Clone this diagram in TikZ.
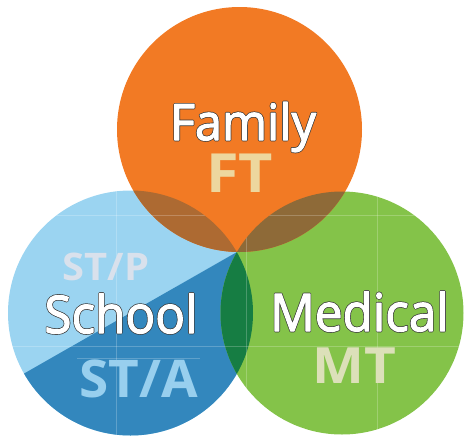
\documentclass[tikz,border=0pt]{standalone}
\usepackage{fontspec}
\setmainfont{Open Sans}
\definecolor{orangeC}{RGB}{242,122,36}
\definecolor{lblue}{RGB}{155,212,241}
\definecolor{dblue}{RGB}{51,135,189}
\definecolor{greenC}{RGB}{132,195,73}
\definecolor{ob}{RGB}{173,106,50}
\definecolor{og}{RGB}{142,106,56}
\definecolor{lens}{RGB}{22,125,67}
\definecolor{ftC}{RGB}{237,215,158}
\definecolor{stpC}{RGB}{217,225,236}
\definecolor{staC}{RGB}{152,207,238}
\definecolor{mtC}{RGB}{220,224,185}
\newcommand\outl[1]{\rlap{\special{pdf:literal direct 0.22 0.22 0.22 RG 2.6 w 1 j 1 Tr}#1\special{pdf:literal direct 0 Tr}}\special{pdf:literal direct 1 1 1 RG 1.2 w 1 j 2 Tr}#1\special{pdf:literal direct 0 Tr}}
\tikzset{
  title/.style={text=white,inner sep=0pt,anchor=base,font=\fontsize{50}{50}\selectfont},
  code/.style={inner sep=0pt,anchor=base,font=\bfseries\fontsize{52}{52}\selectfont},
  guide/.style={white,opacity=0.22,line width=0.8pt}
}
\begin{document}
\begin{tikzpicture}[x=1pt,y=-1pt]
\useasboundingbox (0,0) rectangle (464,437);
% centres
\coordinate (cF) at (239.5,129.5);
\coordinate (cS) at (130.5,313);
\coordinate (cM) at (342,313);
\coordinate (T) at (237,252);
% school circle
\fill[lblue] (cS) circle (122.5);
\begin{scope}
  \clip (cS) circle (122.5);
  \fill[dblue] (T) -- ++(-424,242) -- ++(0,100) -- (500,600) -- (500,120) -- cycle;
\end{scope}
% medical circle
\fill[greenC] (cM) circle (121.5);
% family circle
\fill[orangeC] (cF) circle (122.5);
% overlaps
\begin{scope}
  \clip (cF) circle (122.5);
  \fill[ob] (cS) circle (122.5);
  \fill[og] (cM) circle (121.5);
\end{scope}
\begin{scope}
  \clip (cS) circle (122.5);
  \fill[lens] (cM) circle (121.5);
\end{scope}
% faint guide lines
\begin{scope}
  \clip (cS) circle (122.5) (cM) circle (121.5);
  \draw[guide] (0,215) -- (464,215);
  \draw[guide] (0,346) -- (464,346);
  \draw[guide] (116,180) -- (116,437);
  \draw[guide] (246,180) -- (246,437);
  \draw[guide] (377,180) -- (377,437);
  \draw[guide] (77,358) -- (200,358);
\end{scope}
% texts
\node[title,xscale=0.97] (family) at (243,140) {\outl{Family}};
\node[code,text=ftC,font=\bfseries\fontsize{54}{54}\selectfont,xscale=1.1] (ft) at (239.5,192) {FT};
\node[code,text=stpC,font=\bfseries\fontsize{38}{38}\selectfont,xscale=1.05] (stp) at (106,280) {ST/P};
\node[title,font=\fontsize{52}{52}\selectfont,xscale=0.95] (school) at (121,333) {\outl{School}};
\node[code,text=staC,xscale=1.02] (sta) at (138.5,397) {ST/A};
\node[title,font=\fontsize{52}{52}\selectfont,xscale=0.95] (medical) at (359.5,331) {\outl{Medical}};
\node[code,text=mtC,font=\bfseries\fontsize{50}{50}\selectfont,xscale=1.1] (mt) at (354,383) {MT};
\end{tikzpicture}
\end{document}
